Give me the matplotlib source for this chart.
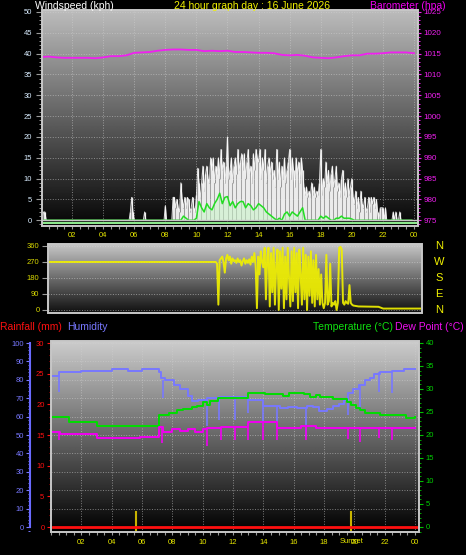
"""24 hour weather graph: wind, barometer, wind direction, temperature / humidity."""
import matplotlib

matplotlib.use("Agg")
import matplotlib.pyplot as plt
import numpy as np
from matplotlib.patches import Rectangle
from matplotlib.ticker import MultipleLocator

W, H = 466, 555

YELLOW = "#e6e600"
TICK_GRAY = "#9a9a9a"
BORDER = "#c8c8c8"
WIND_LBL = "#d8ecff"
BARO = "#f020f0"
HUM = "#7878ff"
TEMP = "#00dd00"
DEW = "#f000f0"
RAIN = "#ff1010"
DIR = "#f0f000"

HOUR_TICKS = [2, 4, 6, 8, 10, 12, 14, 16, 18, 20, 22, 24]
HOUR_LABELS = ["02", "04", "06", "08", "10", "12", "14", "16", "18", "20", "22", "00"]

# wind gust, 5 minute samples (kph), one row per hour
gust_kph = [
    0, 0, 2, 2, 0, 0, 0, 0, 0, 0, 0, 0,
    0, 0, 0, 0, 0, 0, 0, 0, 0, 0, 0, 0,
    0, 0, 0, 0, 0, 0, 0, 0, 0, 0, 0, 0,
    0, 0, 0, 0, 0, 0, 0, 0, 0, 0, 0, 0,
    0, 0, 0, 0, 0, 0, 0, 0, 0, 0, 0, 0,
    0, 0, 0, 0, 0, 0, 0, 0, 0, 2, 5.5, 2,
    0, 0, 0, 0, 0, 0, 0, 0, 2, 0, 0, 0,
    0, 0, 0, 0, 0, 0, 0, 0, 0, 0, 0, 0,
    3.5, 0, 0, 0, 0, 0, 5.5, 5.5, 3, 5, 3, 2,
    9, 5, 3, 5.5, 3, 5.5, 5, 2, 3, 5.5, 3, 2,
    6, 12.5, 9, 5, 9, 13, 7, 11, 13, 10, 9, 15,
    12, 15, 9, 13, 11, 15, 10, 17, 12, 14, 9, 13,
    20, 10, 12, 15, 9, 13, 15, 11, 17, 12, 14, 16,
    12, 16, 10, 14, 17, 11, 13, 9, 16, 12, 17, 15,
    14, 17, 10, 15, 12, 17, 9, 13, 15, 11, 14, 10,
    12, 8, 17, 10, 14, 8, 13, 10, 15, 9, 12, 14,
    17, 10, 15, 12, 8, 15, 11, 14, 9, 15, 12, 8,
    6, 8, 5.5, 7, 5.5, 9, 6, 8, 5.5, 7, 6, 9,
    17, 6, 10, 8, 14, 9, 12, 7, 11, 13, 8, 10,
    13, 7, 9, 5.5, 10, 12, 6, 9, 5.5, 10, 6, 8,
    10, 5.5, 4, 7, 3, 5.5, 2, 7, 4, 3, 5.5, 2,
    3, 5.5, 2, 5.5, 4, 5.5, 3, 5, 2, 0, 3, 3,
    3, 0, 3, 0, 0, 0, 0, 0, 2, 0, 2, 0,
    0, 2, 0, 0, 0, 0, 0, 0, 0, 0, 0, 0,
]

# average wind speed, 10 minute samples (kph)
avg_kph = [
    0, 0, 0, 0, 0, 0,
    0, 0, 0, 0, 0, 0,
    0, 0, 0, 0, 0, 0,
    0, 0, 0, 0, 0, 0,
    0, 0, 0, 0, 0, 0,
    0, 0, 0, 0, 0, 0,
    0, 0, 0, 0, 0, 0,
    0, 0, 0, 0, 0, 0,
    0, 0, 0, 0, 0, 0,
    0, 1, 0.5, 0, 0, 0,
    0.5, 4.5, 3, 2, 4, 3,
    2.5, 4, 5, 6.5, 4, 5.5,
    5.7, 3.5, 4.5, 3, 4, 4.5,
    4.5, 3, 4, 3.5, 2.5, 3,
    4, 3.5, 3, 2, 1.5, 1,
    0.5, 0, 0.5, 0, 1.5, 2,
    1, 2, 1.5, 1, 2, 3,
    0, 0, 0, 0, 0, 0,
    1, 0.5, 1, 0.5, 0, 0,
    0.5, 0.5, 1, 0.5, 0.5, 0.5,
    0.3, 0, 0, 0, 0, 0,
    0, 0, 0, 0, 0, 0,
    0, 0, 0, 0, 0, 0,
    0, 0, 0, 0, 0, 0,
]

# barometer, half-hourly (hPa)
baro_hpa = [
    1014.2, 1014.3, 1014.1, 1014.0, 1014.0, 1014.0, 1014.0, 1013.9,
    1014.1, 1014.4, 1014.4, 1014.6, 1015.2, 1015.3, 1015.4, 1015.7,
    1015.9, 1016.0, 1016.0, 1015.9, 1015.9, 1015.6, 1015.7, 1015.6,
    1015.7, 1015.4, 1015.4, 1015.3, 1015.2, 1015.2, 1015.1, 1014.7,
    1014.6, 1014.7, 1014.5, 1014.1, 1014.0, 1013.9, 1014.1, 1014.4,
    1014.6, 1014.6, 1015.0, 1015.0, 1015.1, 1015.3, 1015.3, 1015.3,
    1015.1,
]

# wind direction: calm start, 5 minute samples from 10:00, then settled tail
dir_calm_hours = [0.0]
dir_calm_deg = [270]
dir_active_start = 10.0
dir_active_deg = [
    270, 270, 270, 270, 270, 270, 270, 270, 270, 270, 260, 30,
    280, 290, 300, 270, 210, 290, 310, 280, 300, 260, 290, 275,
    280, 265, 290, 270, 280, 250, 275, 290, 260, 280, 265, 285,
    255, 300, 270, 320, 250, 10, 300, 200, 330, 270, 240, 350,
    60, 300, 350, 20, 320, 100, 350, 30, 250, 340, 0, 330,
    120, 350, 10, 300, 60, 350, 180, 20, 330, 50, 350, 100,
    320, 10, 340, 200, 30, 350, 60, 310, 0, 300, 80, 330,
    40, 280, 20, 310, 60, 230, 30, 200, 40, 10, 40, 310,
    30, 50, 260, 20, 40, 30, 50, 0, 40, 350, 355, 340,
    40, 30, 50, 40, 35, 140, 40, 30, 25,
]
dir_tail_hours = [20.0, 21.3, 21.6, 24.0]
dir_tail_deg = [20, 18, 8, 8]

# humidity (%), stepped changes plus short dropouts
hum_hours = [0.0, 0.55, 2.0, 4.0, 5.1, 6.0, 7.1, 7.25, 7.5, 8.1, 8.5, 9.0, 9.3,
             9.7, 10.3, 11.1, 12.0, 13.0, 14.0, 15.1, 15.6, 16.2, 16.9, 17.3,
             17.7, 18.2, 18.6, 19.0, 19.3, 19.6, 19.9, 20.3, 20.7, 21.0, 21.3,
             21.7, 22.5, 23.3, 24.0]
hum_pct = [82, 84, 85, 86, 85, 86, 84, 81, 80, 77, 75, 71, 68.5,
           69, 70, 70.5, 70.5, 69, 66, 64.5, 65, 64.5, 66, 65,
           63, 64, 66, 67, 69, 73, 75, 77, 80, 81, 83,
           84, 85, 86, 86]
hum_drop_hours = [0.5, 7.4, 10.3, 11.1, 12.1, 13.0, 14.0, 14.9, 16.8, 19.6, 20.4, 21.6, 22.5]
hum_drop_top = [82, 80, 69, 70, 70.5, 70, 68, 66, 65, 72, 77, 84, 85]
hum_drop_low = [73.5, 70, 55, 58, 58, 62, 57, 54, 49, 61, 63, 73.5, 73]

# temperature (C)
temp_hours = [0.0, 1.2, 3.0, 7.1, 7.8, 8.3, 8.7, 9.3, 9.6, 10.0, 10.3, 10.5, 11.0,
              13.0, 14.1, 15.3, 15.7, 16.7, 17.1, 17.5, 17.75, 18.6, 19.5, 19.8,
              20.1, 20.4, 20.7, 21.7, 23.4, 24.0]
temp_c = [24.0, 22.8, 22.0, 24.3, 24.7, 25.4, 25.7, 26.0, 26.4, 27.1, 26.6, 27.3, 28.0,
          29.1, 29.0, 28.4, 29.1, 28.9, 28.3, 28.6, 28.2, 27.9, 27.2, 26.5,
          25.9, 25.4, 24.8, 24.3, 23.8, 23.9]

# dew point (C)
dew_hours = [0.0, 0.6, 3.0, 5.9, 7.1, 7.4, 8.0, 8.5, 9.0, 9.5, 10.0, 10.3, 11.2,
             13.0, 14.9, 16.5, 17.5, 24.0]
dew_c = [20.7, 20.2, 19.3, 19.5, 21.8, 20.7, 21.3, 20.8, 21.4, 20.6, 21.2, 21.5, 21.8,
         22.8, 21.5, 22.0, 21.5, 21.6]
dew_drop_hours = [0.5, 7.35, 10.3, 11.2, 12.1, 13.0, 14.0, 14.9, 16.8, 19.6, 20.4, 21.6, 22.5]
dew_drop_top = [20.7, 21.8, 21.2, 21.5, 21.8, 21.8, 22.8, 22.8, 22.0, 21.5, 21.5, 21.5, 21.5]
dew_drop_low = [18.9, 18.3, 17.5, 19.0, 19.0, 19.0, 19.0, 19.0, 19.0, 19.2, 18.5, 19.3, 19.0]

# rainfall (mm)
rain_hours = [0.1, 24.2]
rain_mm = [0.0, 0.0]

# sunrise / sunset
sun_hours = [5.6, 19.8]
sun_labels = ["", "Sunset"]

COMPASS_DEG = [360, 270, 180, 90, 0]
COMPASS_PTS = ["N", "W", "S", "E", "N"]


def frame(l, t, r, b):
    return [l / W, 1 - b / H, (r - l) / W, (b - t) / H]


def shade(ax, top, bottom):
    grad = np.linspace(top, bottom, 256).reshape(-1, 1)
    ax.imshow(grad, cmap="gray", vmin=0, vmax=1, aspect="auto", extent=(0, 1, 0, 1),
              transform=ax.transAxes, zorder=0, interpolation="bilinear")


def border(ax):
    ax.add_patch(Rectangle((0, 0), 1, 1, transform=ax.transAxes, fill=False,
                           ec=BORDER, lw=1.4, zorder=20, clip_on=False))


def bare(ax):
    for s in ax.spines.values():
        s.set_visible(False)


def hour_axis(ax, pad):
    ax.set_xticks(HOUR_TICKS, HOUR_LABELS)
    ax.xaxis.set_minor_locator(MultipleLocator(0.5))
    ax.tick_params(axis="x", which="both", length=2.2, width=0.8, color=TICK_GRAY,
                   labelcolor=YELLOW, labelsize=5.5, pad=pad)


plt.rcParams["font.family"] = ["Liberation Sans", "DejaVu Sans"]
fig = plt.figure(figsize=(W / 100, H / 100), dpi=100, facecolor="black")

# ---------------- panel 1: wind speed + barometer ----------------
ax1 = fig.add_axes(frame(42, 10, 418, 226))
shade(ax1, 0.74, 0.02)
bare(ax1)
t5 = np.arange(len(gust_kph)) / 12
t10 = np.arange(len(avg_kph)) / 6
ax1.fill_between(t5, 0, gust_kph, color="#bcbcbc", alpha=0.7, lw=0, zorder=2)
ax1.vlines(t5, 0, gust_kph, color="#f4f4f4", lw=0.9, alpha=0.9, zorder=3)
ax1.plot(t5, gust_kph, color="white", lw=0.7, alpha=0.85, zorder=3)
ax1.fill_between(t10, 0, avg_kph, color="#c8f5c8", alpha=0.55, lw=0, zorder=4)
ax1.plot(t10, avg_kph, color="#22dd22", lw=1.1, zorder=5)
ax1.axhline(0, color="#c8c8c8", lw=1.0, zorder=5)
ax1.axhline(-0.75, color="#90ee90", lw=1.4, zorder=5)
ax1.set_xlim(0.064, 24.26)
ax1.set_ylim(-1.37, 50.48)
ax1.yaxis.set_major_locator(MultipleLocator(5))
ax1.yaxis.set_minor_locator(MultipleLocator(1))
ax1.tick_params(axis="y", which="major", length=4.3, width=0.8, color=TICK_GRAY,
                labelcolor=WIND_LBL, labelsize=5.5, pad=2.8)
ax1.tick_params(axis="y", which="minor", length=2.0, width=0.7, color=TICK_GRAY)
hour_axis(ax1, 2.2)
ax1.set_axisbelow(True)
ax1.grid(which="major", ls=":", color="#d0d0d0", lw=0.7, alpha=0.55)

ax1b = ax1.twinx()
bare(ax1b)
ax1b.plot(np.arange(len(baro_hpa)) / 2, baro_hpa, color=BARO, lw=1.3, zorder=6)
ax1b.set_ylim(973.63, 1025.48)
ax1b.yaxis.set_major_locator(MultipleLocator(5))
ax1b.yaxis.set_minor_locator(MultipleLocator(1))
ax1b.tick_params(axis="y", which="major", length=2.5, width=0.8, color=BARO,
                 labelcolor=BARO, labelsize=5.8, pad=1.5)
ax1b.tick_params(axis="y", which="minor", length=1.5, width=0.7, color=BARO)
border(ax1b)

fig.text(35 / W, 1 - 6 / H, "Windspeed (kph)", color="white", fontsize=7.5, va="center", ha="left")
fig.text(252 / W, 1 - 6 / H, "24 hour graph day : 16 June 2026", color="#f0f000",
         fontsize=7.5, va="center", ha="center")
fig.text(446 / W, 1 - 6 / H, "Barometer (hpa)", color="#f000f0", fontsize=7.5,
         va="center", ha="right")

# ---------------- panel 2: wind direction ----------------
ax2 = fig.add_axes(frame(48, 244, 422, 313))
shade(ax2, 0.78, 0.06)
bare(ax2)
dir_hours = np.concatenate([dir_calm_hours,
                            dir_active_start + np.arange(len(dir_active_deg)) / 12,
                            dir_tail_hours])
dir_deg = np.concatenate([dir_calm_deg, dir_active_deg, dir_tail_deg])
ax2.plot(dir_hours, dir_deg, color=DIR, lw=1.4, alpha=0.92, zorder=3)
ax2.set_xlim(-0.13, 24.12)
ax2.set_ylim(-16.9, 371)
ax2.set_xticks([])
ax2.set_yticks([0, 90, 180, 270, 360])
ax2.tick_params(axis="y", length=4.0, width=0.8, color=TICK_GRAY, labelcolor="#d8d800",
                labelsize=5.5, pad=2.2)
ax2.set_axisbelow(True)
ax2.grid(axis="y", ls=":", color="#d8d8d8", lw=0.7, alpha=0.55)
border(ax2)
for deg, pt in zip(COMPASS_DEG, COMPASS_PTS):
    ax2.text(1.045, deg, pt, transform=ax2.get_yaxis_transform(), color="#f0f000",
             fontsize=8, ha="center", va="center")

# ---------------- panel 3: humidity / rain / temperature ----------------
ax3 = fig.add_axes(frame(51, 341, 419, 532))
shade(ax3, 0.8, 0.0)
bare(ax3)
ax3.plot(hum_hours, hum_pct, color=HUM, lw=1.4, drawstyle="steps-post", zorder=3)
ax3.vlines(hum_drop_hours, hum_drop_low, hum_drop_top, color=HUM, lw=1.2, zorder=3)
for h in sun_hours:
    ax3.axvline(h, ymin=0, ymax=0.106, color="#c8b400", lw=1.5, zorder=4)
ax3.set_xlim(0, 24.26)
ax3.set_ylim(-2.7, 101.1)
ax3.spines["left"].set_visible(True)
ax3.spines["left"].set_position(("outward", 15.1))
ax3.spines["left"].set_color("#6a6aff")
ax3.spines["left"].set_linewidth(1.5)
ax3.spines["left"].set_bounds(0, 100)
ax3.yaxis.set_major_locator(MultipleLocator(10))
ax3.yaxis.set_minor_locator(MultipleLocator(2))
ax3.tick_params(axis="y", which="major", length=3.2, width=0.8, color=HUM,
                labelcolor=HUM, labelsize=5.5, pad=1.2)
ax3.tick_params(axis="y", which="minor", length=1.8, width=0.7, color=HUM)
hour_axis(ax3, 3.0)
ax3.set_axisbelow(True)
ax3.grid(which="major", ls=":", color="#d0d0d0", lw=0.7, alpha=0.55)
for h, lbl in zip(sun_hours, sun_labels):
    if lbl:
        ax3.text(h, -0.052, lbl, transform=ax3.get_xaxis_transform(), color=YELLOW,
                 fontsize=5.5, ha="center", va="center")

ax3r = ax3.twinx()
bare(ax3r)
ax3r.yaxis.tick_left()
ax3r.plot(rain_hours, rain_mm, color=RAIN, lw=2.0, zorder=5)
ax3r.set_ylim(-0.815, 30.33)
ax3r.yaxis.set_major_locator(MultipleLocator(5))
ax3r.yaxis.set_minor_locator(MultipleLocator(1))
ax3r.tick_params(axis="y", which="major", length=3.2, width=0.8, color=RAIN,
                 labelcolor=RAIN, labelsize=5.5, pad=1.5)
ax3r.tick_params(axis="y", which="minor", length=1.5, width=0.7, color="#c00000")

ax3t = ax3.twinx()
bare(ax3t)
ax3t.plot(temp_hours, temp_c, color=TEMP, lw=1.4, drawstyle="steps-post", zorder=4)
ax3t.plot(dew_hours, dew_c, color=DEW, lw=1.4, drawstyle="steps-post", zorder=4)
ax3t.vlines(dew_drop_hours, dew_drop_low, dew_drop_top, color=DEW, lw=1.2, zorder=4)
ax3t.set_ylim(-1.09, 40.43)
ax3t.yaxis.set_major_locator(MultipleLocator(5))
ax3t.yaxis.set_minor_locator(MultipleLocator(1))
ax3t.tick_params(axis="y", which="major", length=3.0, width=0.8, color="#00c000",
                 labelcolor="#00d000", labelsize=5.5, pad=2.0)
ax3t.tick_params(axis="y", which="minor", length=1.5, width=0.7, color="#00a000")
border(ax3t)

fig.text(0 / W, 1 - 327 / H, "Rainfall (mm)", color="#ff1010", fontsize=7.5, va="center", ha="left")
fig.text(67 / W, 1 - 327 / H, "Humidity", color=HUM, fontsize=7.5, va="center", ha="left")
fig.text(313 / W, 1 - 327 / H, "Temperature (°C)", color="#10e010", fontsize=7.5,
         va="center", ha="left")
fig.text(464 / W, 1 - 327 / H, "Dew Point (°C)", color="#f010f0", fontsize=7.5,
         va="center", ha="right")

fig.savefig("out.png", dpi=100, facecolor="black")
